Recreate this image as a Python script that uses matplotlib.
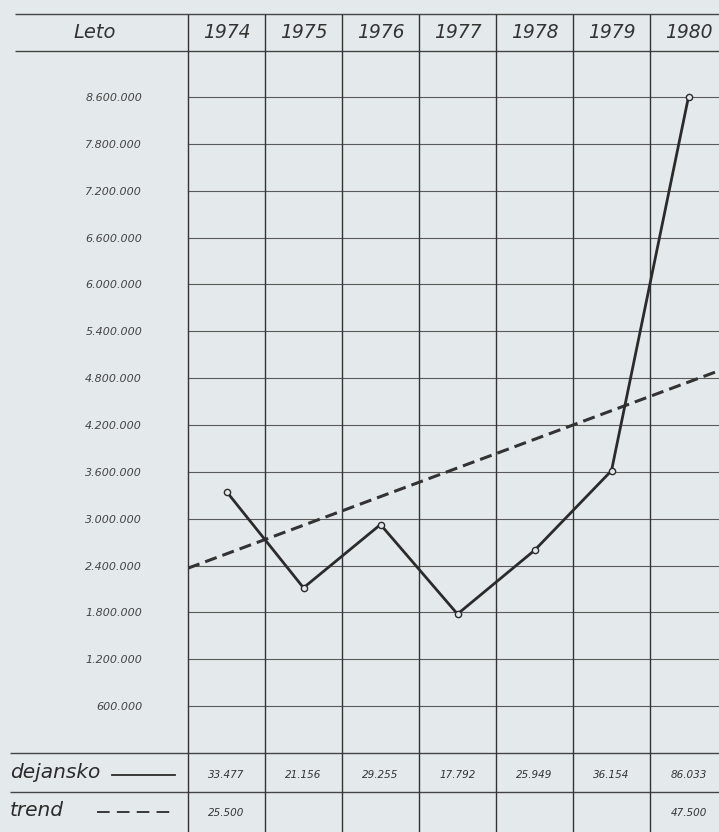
import numpy as np
import matplotlib
matplotlib.use("Agg")
import matplotlib.pyplot as plt
import matplotlib.transforms as mtransforms

# data
years = [1974, 1975, 1976, 1977, 1978, 1979, 1980]
dejansko = [33.477, 21.156, 29.255, 17.792, 25.949, 36.154, 86.033]
trend_years = [1974, 1980]
trend = [25.500, 47.500]
# axis labels as printed (top one is 8.600.000)
tick_vals = [600000 * k for k in range(14)] + [8600000]
unit = 100000  # table values -> axis units

bg = "#e4eaec"
ink = "#2b2b2b"
W, H = 719, 832

idx = np.arange(len(tick_vals), dtype=float)
tv = np.array(tick_vals, dtype=float)


def fwd(v):
    v = np.asarray(v, dtype=float)
    above = idx[-1] + (v - tv[-1]) / (tv[-1] - tv[-2])
    return np.where(v > tv[-1], above, np.where(v < 0, v / tv[1], np.interp(v, tv, idx)))


def inv(i):
    i = np.asarray(i, dtype=float)
    above = tv[-1] + (i - idx[-1]) * (tv[-1] - tv[-2])
    return np.where(i > idx[-1], above, np.where(i < 0, i * tv[1], np.interp(i, idx, tv)))


fig = plt.figure(figsize=(W / 100, H / 100), dpi=100, facecolor=bg)

# overlay in pixel coords for the table frame
tab = fig.add_axes([0, 0, 1, 1])
tab.set_xlim(0, W)
tab.set_ylim(H, 0)
tab.axis("off")
tab.set_zorder(0)

ax = fig.add_axes([188 / W, (H - 753) / H, 539 / W, 656 / H])
ax.patch.set_alpha(0)
ax.set_zorder(1)
ax.set_xlim(1973.5, 1980.5)
ax.set_yscale("function", functions=(fwd, inv))
ax.set_ylim(0, tv[-1])
for s in ax.spines.values():
    s.set_visible(False)
ax.set_xticks([])
ax.set_yticks(tick_vals[1:])
ax.set_yticklabels([f"{v:,}".replace(",", ".") for v in tick_vals[1:]])
ax.tick_params(axis="y", length=0, pad=33, labelsize=8, labelcolor="#444")
for t in ax.get_yticklabels():
    t.set_style("italic")
ax.grid(axis="y", color="#5a5a5a", lw=0.8)
for gl in ax.get_ygridlines():
    gl.set_clip_on(False)

# table lines
tab.hlines([14, 51], 15, W, color="#444", lw=1.0)
tab.hlines([753, 792], 10, W, color="#444", lw=1.0)
trans = mtransforms.blended_transform_factory(ax.transData, fig.transFigure)
edges = np.arange(1973.5, 1981, 1.0)
ax.vlines(edges, 0, 1 - 14 / H, transform=trans, color="#333", lw=1.0, clip_on=False)

# header
tab.text(95, 33, "Leto", ha="center", va="center", fontsize=14, style="italic",
         color="#333", fontweight="light")
for yr in years:
    ax.text(yr, 1 - 33 / H, str(yr), transform=trans, ha="center", va="center",
            fontsize=13.5, style="italic", color="#333", fontweight="light")

# bottom rows
tab.text(10, 772, "dejansko", ha="left", va="center", fontsize=14.5, style="italic", color=ink)
tab.plot([112, 175], [775, 775], color=ink, lw=1.3)
tab.text(10, 811, "trend", ha="left", va="center", fontsize=14.5, style="italic", color=ink)
tab.plot([97, 175], [812, 812], color=ink, lw=1.3, dashes=(7, 4))
for yr, v in zip(years, dejansko):
    ax.text(yr, 1 - 775 / H, f"{v:.3f}", transform=trans, ha="center", va="center",
            fontsize=7.5, style="italic", color="#333")
for yr, v in zip(trend_years, trend):
    ax.text(yr, 1 - 813 / H, f"{v:.3f}", transform=trans, ha="center", va="center",
            fontsize=7.5, style="italic", color="#333")

# lines
ax.plot(years, np.array(dejansko) * unit, color=ink, lw=2, marker="o", ms=4.5,
        mfc=bg, mec=ink, mew=1, clip_on=False, zorder=3)
coef = np.polyfit(trend_years, np.array(trend) * unit, 1)
xt = np.array([1973.5, 1980.5])
ax.plot(xt, np.polyval(coef, xt), color="#333", lw=2.2, dashes=(4, 2), zorder=2)

plt.savefig("out.png", dpi=100, facecolor=bg)
